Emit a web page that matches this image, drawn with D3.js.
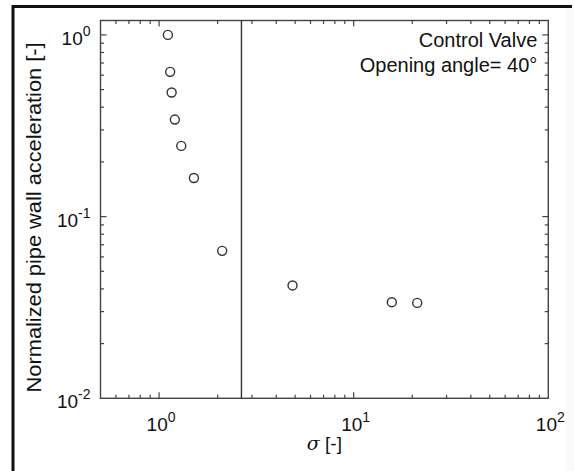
<!DOCTYPE html>
<html>
<head>
<meta charset="utf-8">
<script src="https://cdn.jsdelivr.net/npm/d3@7"></script>
<style>
  body { margin: 0; background: #fff; }
  text { font-family: "Liberation Sans", Arial, sans-serif; fill: #111; }
</style>
</head>
<body>
<div id="chart"></div>
<script>
// data
var sigma = [1.11, 1.14, 1.16, 1.205, 1.30, 1.51, 2.11, 4.85, 15.7, 21.2];
var accel = [1.0, 0.626, 0.482, 0.342, 0.245, 0.163, 0.0648, 0.0418, 0.0338, 0.0335];
var sigmaLimit = 2.65;
var xMajor = [1, 10, 100];
var xMajorLabels = ["0", "1", "2"];
var yMajor = [0.01, 0.1, 1];
var yMajorLabels = ["-2", "-1", "0"];
var notes = ["Control Valve", "Opening angle= 40°"];

var W = 574, H = 471;
var margin = {top: 20.5, right: 25.7, bottom: 72.7, left: 100.5},
    width = W - margin.left - margin.right,
    height = H - margin.top - margin.bottom;

var root = d3.select("#chart").append("svg")
    .attr("width", W)
    .attr("height", H);

// figure frame (cropped: only top and left edges show)
root.append("rect").attr("x", 566).attr("y", 8).attr("width", 8).attr("height", H).style("fill", "#fafafa");
root.append("line").attr("x1", 12).attr("x2", 572).attr("y1", 6.5).attr("y2", 6.5)
    .style("stroke", "#111").style("stroke-width", 3);
root.append("line").attr("x1", 13).attr("x2", 13).attr("y1", 5).attr("y2", H)
    .style("stroke", "#111").style("stroke-width", 3);

var svg = root.append("g")
    .attr("transform", "translate(" + margin.left + "," + margin.top + ")");

var x = d3.scaleLog().domain([0.5, 100]).range([0, width]);
var y = d3.scaleLog().domain([0.01, 1.2]).range([height, 0]);

var axisColor = "#444";

// minor tick positions
function minors(domain) {
  var out = [];
  for (var e = -3; e <= 3; e++) {
    for (var m = 1; m <= 9; m++) {
      var v = m * Math.pow(10, e);
      if (v > domain[0] * 1.0001 && v < domain[1] * 0.9999) out.push({v: v, major: m === 1});
    }
  }
  return out;
}

var xt = minors(x.domain());
var yt = minors(y.domain());

// x ticks, inward on bottom and top
svg.append("g").selectAll("line.xb").data(xt).enter().append("line")
  .attr("x1", function(d) { return x(d.v); }).attr("x2", function(d) { return x(d.v); })
  .attr("y1", height).attr("y2", function(d) { return height - (d.major ? 6 : 3.5); })
  .style("stroke", axisColor).style("stroke-width", 1.2);
svg.append("g").selectAll("line.xt").data(xt).enter().append("line")
  .attr("x1", function(d) { return x(d.v); }).attr("x2", function(d) { return x(d.v); })
  .attr("y1", 0).attr("y2", function(d) { return d.major ? 6 : 3.5; })
  .style("stroke", axisColor).style("stroke-width", 1.2);

// y ticks, inward on left and right
svg.append("g").selectAll("line.yl").data(yt).enter().append("line")
  .attr("y1", function(d) { return y(d.v); }).attr("y2", function(d) { return y(d.v); })
  .attr("x1", 0).attr("x2", function(d) { return d.major ? 6 : 3.5; })
  .style("stroke", axisColor).style("stroke-width", 1.2);
svg.append("g").selectAll("line.yr").data(yt).enter().append("line")
  .attr("y1", function(d) { return y(d.v); }).attr("y2", function(d) { return y(d.v); })
  .attr("x1", width).attr("x2", function(d) { return width - (d.major ? 6 : 3.5); })
  .style("stroke", axisColor).style("stroke-width", 1.2);

// box
svg.append("rect")
  .attr("width", width).attr("height", height)
  .style("fill", "none").style("stroke", axisColor).style("stroke-width", 1.4);

// x tick labels
var xl = svg.append("g").selectAll("text.xl").data(xMajor).enter().append("text")
  .attr("x", function(d) { return x(d) + 2; })
  .attr("y", height + 33)
  .attr("text-anchor", "middle")
  .style("font-size", "19px");
xl.append("tspan").text("10");
xl.append("tspan").attr("dy", -9).style("font-size", "14px")
  .text(function(d, i) { return xMajorLabels[i]; });

// y tick labels
var yl = svg.append("g").selectAll("text.yl").data(yMajor).enter().append("text")
  .attr("x", -10)
  .attr("y", function(d) { return y(d) + 10; })
  .attr("text-anchor", "end")
  .style("font-size", "19px");
yl.append("tspan").text("10");
yl.append("tspan").attr("dy", -9).style("font-size", "14px")
  .text(function(d, i) { return yMajorLabels[i]; });

// axis titles
var xTitle = svg.append("text")
  .attr("x", width / 2)
  .attr("y", height + 52)
  .attr("text-anchor", "middle")
  .style("font-size", "19px");
xTitle.append("tspan").style("font-style", "italic").style("font-family", "'DejaVu Serif', serif").text("σ");
xTitle.append("tspan").text(" [-]");

svg.append("text")
  .attr("transform", "translate(" + (-60) + "," + (height / 2 + 8) + ") rotate(-90)")
  .attr("text-anchor", "middle")
  .attr("textLength", 350)
  .attr("lengthAdjust", "spacingAndGlyphs")
  .style("font-size", "20px")
  .text("Normalized pipe wall acceleration [-]");

// vertical limit line
svg.append("line")
  .attr("x1", x(sigmaLimit)).attr("x2", x(sigmaLimit))
  .attr("y1", 0).attr("y2", height)
  .style("stroke", "#333").style("stroke-width", 1.4);

// points
svg.append("g").selectAll("circle").data(sigma).enter().append("circle")
  .attr("cx", function(d) { return x(d); })
  .attr("cy", function(d, i) { return y(accel[i]); })
  .attr("r", 4.5)
  .style("fill", "none")
  .style("stroke", "#333")
  .style("stroke-width", 1.4);

// annotation
svg.append("g").selectAll("text.note").data(notes).enter().append("text")
  .attr("x", width - 11)
  .attr("y", function(d, i) { return 26 + i * 25.5; })
  .attr("text-anchor", "end")
  .style("font-size", "20px")
  .text(function(d) { return d; });
</script>
</body>
</html>
